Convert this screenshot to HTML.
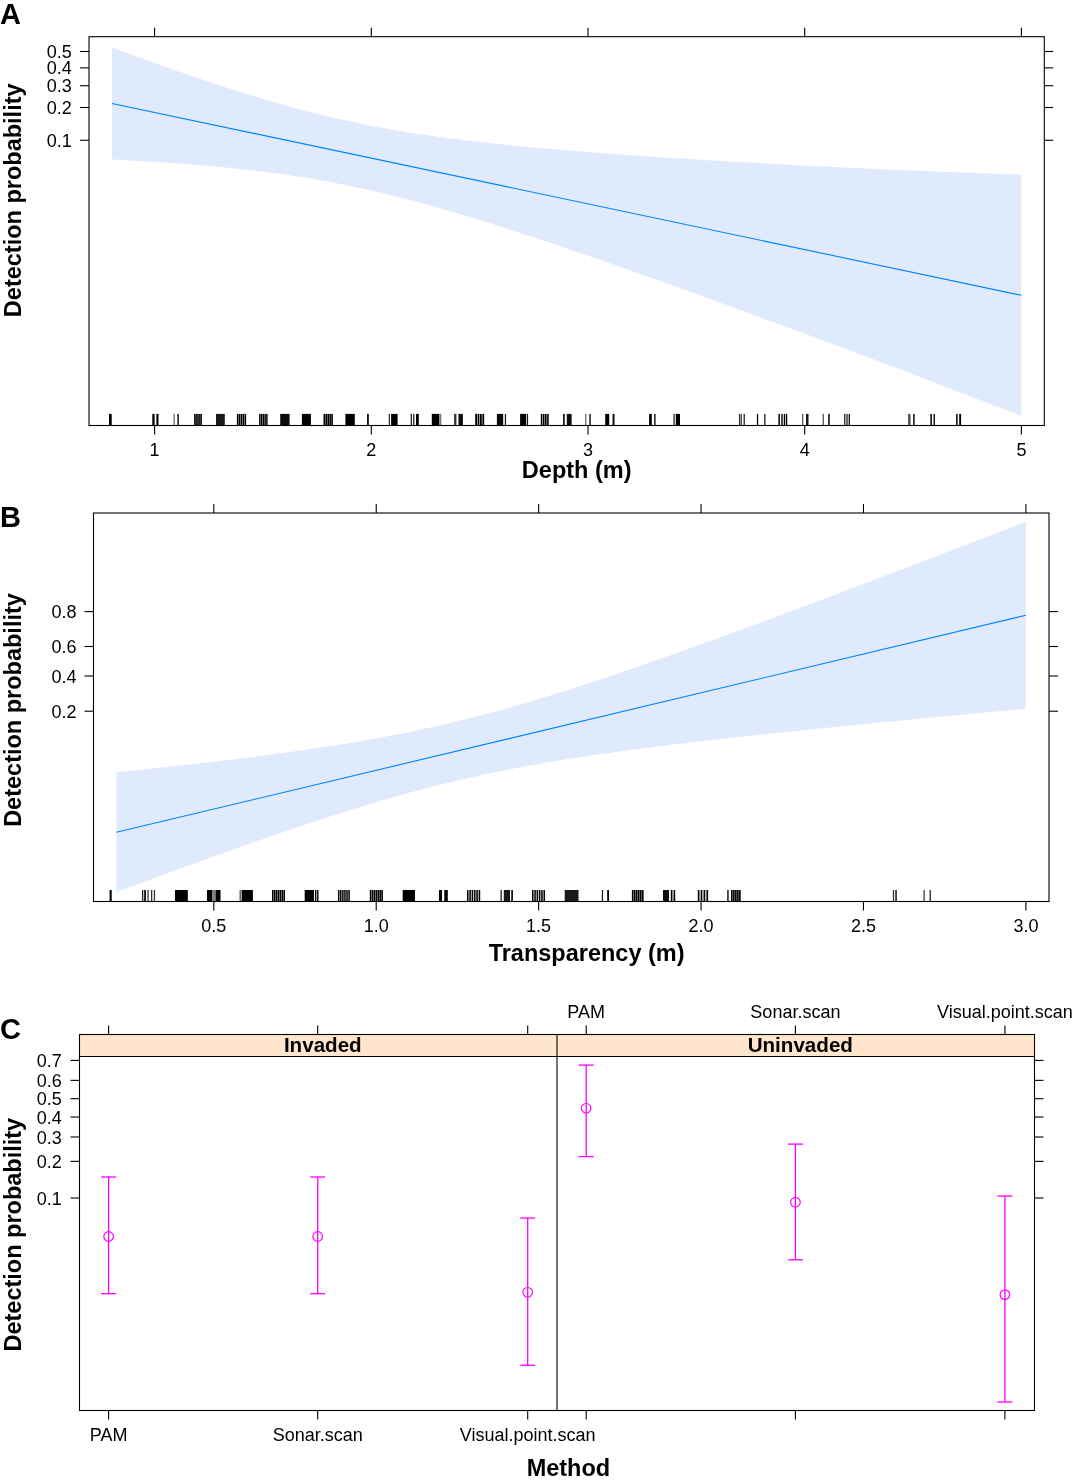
<!DOCTYPE html>
<html><head><meta charset="utf-8"><title>Detection probability</title>
<style>html,body{margin:0;padding:0;background:#fff;}svg{display:block;will-change:transform;}text{font-family:"Liberation Sans",sans-serif;fill:#000;}</style>
</head><body>
<svg width="1076" height="1481" viewBox="0 0 1076 1481">
<rect width="1076" height="1481" fill="#fff"/>
<path d="M111.90,47.36 L116.45,49.05 L121.00,50.74 L125.54,52.43 L130.09,54.10 L134.64,55.77 L139.19,57.43 L143.73,59.09 L148.28,60.73 L152.83,62.37 L157.38,64.00 L161.92,65.63 L166.47,67.24 L171.02,68.84 L175.56,70.44 L180.11,72.02 L184.66,73.60 L189.21,75.17 L193.75,76.72 L198.30,78.27 L202.85,79.80 L207.40,81.33 L211.94,82.84 L216.49,84.34 L221.04,85.83 L225.59,87.30 L230.13,88.76 L234.68,90.21 L239.23,91.65 L243.78,93.07 L248.33,94.48 L252.87,95.87 L257.42,97.25 L261.97,98.61 L266.51,99.95 L271.06,101.28 L275.61,102.59 L280.16,103.89 L284.71,105.17 L289.25,106.43 L293.80,107.67 L298.35,108.89 L302.89,110.09 L307.44,111.28 L311.99,112.44 L316.54,113.59 L321.09,114.71 L325.63,115.81 L330.18,116.90 L334.73,117.96 L339.27,119.00 L343.82,120.03 L348.37,121.03 L352.92,122.01 L357.47,122.97 L362.01,123.91 L366.56,124.83 L371.11,125.72 L375.65,126.60 L380.20,127.46 L384.75,128.30 L389.30,129.12 L393.85,129.92 L398.39,130.70 L402.94,131.47 L407.49,132.21 L412.03,132.94 L416.58,133.65 L421.13,134.35 L425.68,135.03 L430.23,135.69 L434.77,136.34 L439.32,136.97 L443.87,137.59 L448.41,138.20 L452.96,138.79 L457.51,139.37 L462.06,139.93 L466.61,140.49 L471.15,141.03 L475.70,141.56 L480.25,142.08 L484.79,142.59 L489.34,143.09 L493.89,143.58 L498.44,144.06 L502.99,144.53 L507.53,145.00 L512.08,145.45 L516.63,145.90 L521.17,146.34 L525.72,146.77 L530.27,147.19 L534.82,147.61 L539.37,148.02 L543.91,148.43 L548.46,148.83 L553.01,149.22 L557.55,149.61 L562.10,149.99 L566.65,150.36 L571.20,150.73 L575.75,151.10 L580.29,151.46 L584.84,151.82 L589.39,152.17 L593.94,152.52 L598.48,152.86 L603.03,153.20 L607.58,153.54 L612.12,153.87 L616.67,154.20 L621.22,154.53 L625.77,154.85 L630.31,155.17 L634.86,155.48 L639.41,155.79 L643.96,156.10 L648.50,156.41 L653.05,156.71 L657.60,157.01 L662.15,157.31 L666.69,157.60 L671.24,157.90 L675.79,158.19 L680.34,158.47 L684.88,158.76 L689.43,159.04 L693.98,159.32 L698.53,159.60 L703.07,159.88 L707.62,160.15 L712.17,160.42 L716.72,160.69 L721.26,160.96 L725.81,161.22 L730.36,161.49 L734.91,161.75 L739.45,162.01 L744.00,162.26 L748.55,162.52 L753.10,162.77 L757.64,163.02 L762.19,163.27 L766.74,163.52 L771.29,163.77 L775.83,164.01 L780.38,164.25 L784.93,164.49 L789.48,164.73 L794.02,164.97 L798.57,165.21 L803.12,165.44 L807.67,165.67 L812.22,165.90 L816.76,166.13 L821.31,166.35 L825.86,166.58 L830.40,166.80 L834.95,167.02 L839.50,167.24 L844.05,167.46 L848.60,167.68 L853.14,167.89 L857.69,168.11 L862.24,168.32 L866.78,168.53 L871.33,168.73 L875.88,168.94 L880.43,169.14 L884.98,169.35 L889.52,169.55 L894.07,169.75 L898.62,169.94 L903.16,170.14 L907.71,170.33 L912.26,170.52 L916.81,170.71 L921.36,170.90 L925.90,171.09 L930.45,171.27 L935.00,171.46 L939.54,171.64 L944.09,171.82 L948.64,172.00 L953.19,172.17 L957.74,172.35 L962.28,172.52 L966.83,172.69 L971.38,172.86 L975.92,173.02 L980.47,173.19 L985.02,173.35 L989.57,173.51 L994.12,173.67 L998.66,173.83 L1003.21,173.98 L1007.76,174.14 L1012.30,174.29 L1016.85,174.44 L1021.40,174.58 L1021.40,416.02 L1016.85,414.25 L1012.30,412.48 L1007.76,410.71 L1003.21,408.95 L998.66,407.18 L994.12,405.42 L989.57,403.66 L985.02,401.90 L980.47,400.15 L975.92,398.39 L971.38,396.64 L966.83,394.89 L962.28,393.14 L957.74,391.40 L953.19,389.65 L948.64,387.91 L944.09,386.17 L939.54,384.43 L935.00,382.69 L930.45,380.96 L925.90,379.22 L921.36,377.49 L916.81,375.76 L912.26,374.03 L907.71,372.31 L903.16,370.58 L898.62,368.86 L894.07,367.14 L889.52,365.42 L884.98,363.70 L880.43,361.98 L875.88,360.27 L871.33,358.56 L866.78,356.84 L862.24,355.14 L857.69,353.43 L853.14,351.72 L848.60,350.02 L844.05,348.32 L839.50,346.61 L834.95,344.92 L830.40,343.22 L825.86,341.52 L821.31,339.83 L816.76,338.14 L812.22,336.45 L807.67,334.76 L803.12,333.07 L798.57,331.39 L794.02,329.70 L789.48,328.02 L784.93,326.34 L780.38,324.66 L775.83,322.99 L771.29,321.31 L766.74,319.64 L762.19,317.97 L757.64,316.30 L753.10,314.63 L748.55,312.97 L744.00,311.30 L739.45,309.64 L734.91,307.98 L730.36,306.33 L725.81,304.67 L721.26,303.02 L716.72,301.37 L712.17,299.72 L707.62,298.07 L703.07,296.42 L698.53,294.78 L693.98,293.14 L689.43,291.50 L684.88,289.87 L680.34,288.23 L675.79,286.60 L671.24,284.97 L666.69,283.35 L662.15,281.72 L657.60,280.10 L653.05,278.49 L648.50,276.87 L643.96,275.26 L639.41,273.65 L634.86,272.04 L630.31,270.44 L625.77,268.84 L621.22,267.24 L616.67,265.65 L612.12,264.06 L607.58,262.47 L603.03,260.89 L598.48,259.31 L593.94,257.74 L589.39,256.17 L584.84,254.60 L580.29,253.04 L575.75,251.48 L571.20,249.93 L566.65,248.38 L562.10,246.84 L557.55,245.30 L553.01,243.77 L548.46,242.24 L543.91,240.72 L539.37,239.21 L534.82,237.70 L530.27,236.20 L525.72,234.71 L521.17,233.22 L516.63,231.74 L512.08,230.27 L507.53,228.80 L502.99,227.35 L498.44,225.90 L493.89,224.46 L489.34,223.04 L484.79,221.62 L480.25,220.21 L475.70,218.81 L471.15,217.42 L466.61,216.05 L462.06,214.68 L457.51,213.33 L452.96,211.99 L448.41,210.66 L443.87,209.35 L439.32,208.05 L434.77,206.76 L430.23,205.49 L425.68,204.24 L421.13,203.00 L416.58,201.78 L412.03,200.57 L407.49,199.38 L402.94,198.21 L398.39,197.05 L393.85,195.92 L389.30,194.80 L384.75,193.70 L380.20,192.62 L375.65,191.56 L371.11,190.52 L366.56,189.50 L362.01,188.50 L357.47,187.52 L352.92,186.56 L348.37,185.62 L343.82,184.71 L339.27,183.81 L334.73,182.93 L330.18,182.08 L325.63,181.24 L321.09,180.43 L316.54,179.64 L311.99,178.86 L307.44,178.11 L302.89,177.37 L298.35,176.66 L293.80,175.96 L289.25,175.28 L284.71,174.62 L280.16,173.98 L275.61,173.36 L271.06,172.75 L266.51,172.16 L261.97,171.59 L257.42,171.03 L252.87,170.49 L248.33,169.96 L243.78,169.45 L239.23,168.96 L234.68,168.47 L230.13,168.00 L225.59,167.55 L221.04,167.10 L216.49,166.67 L211.94,166.26 L207.40,165.85 L202.85,165.45 L198.30,165.07 L193.75,164.70 L189.21,164.33 L184.66,163.98 L180.11,163.64 L175.56,163.31 L171.02,162.98 L166.47,162.67 L161.92,162.36 L157.38,162.07 L152.83,161.78 L148.28,161.50 L143.73,161.23 L139.19,160.96 L134.64,160.71 L130.09,160.46 L125.54,160.21 L121.00,159.98 L116.45,159.75 L111.90,159.53Z" fill="#DFEBFD" stroke="none"/>
<line x1="111.90" y1="103.44" x2="1021.40" y2="295.30" stroke="#0080FF" stroke-width="1.1"/>
<rect x="109.00" y="413.9" width="2.70" height="11.60" fill="#000" fill-opacity="1"/>
<rect x="152.30" y="413.9" width="2.30" height="11.60" fill="#000" fill-opacity="1"/>
<rect x="156.40" y="413.9" width="2.10" height="11.60" fill="#000" fill-opacity="1"/>
<rect x="173.53" y="413.9" width="1.25" height="11.60" fill="#000" fill-opacity="0.6"/>
<rect x="177.40" y="413.9" width="1.40" height="11.60" fill="#000" fill-opacity="1"/>
<rect x="194.10" y="413.9" width="1.66" height="11.60" fill="#000"/>
<rect x="196.15" y="413.9" width="1.66" height="11.60" fill="#000"/>
<rect x="198.19" y="413.9" width="1.66" height="11.60" fill="#000"/>
<rect x="200.24" y="413.9" width="1.66" height="11.60" fill="#000"/>
<rect x="216.00" y="413.9" width="8.80" height="11.60" fill="#000" fill-opacity="0.9"/>
<rect x="236.90" y="413.9" width="1.56" height="11.60" fill="#000"/>
<rect x="238.81" y="413.9" width="1.56" height="11.60" fill="#000"/>
<rect x="240.72" y="413.9" width="1.56" height="11.60" fill="#000"/>
<rect x="242.63" y="413.9" width="1.56" height="11.60" fill="#000"/>
<rect x="244.54" y="413.9" width="1.56" height="11.60" fill="#000"/>
<rect x="259.10" y="413.9" width="1.45" height="11.60" fill="#000"/>
<rect x="260.86" y="413.9" width="1.45" height="11.60" fill="#000"/>
<rect x="262.63" y="413.9" width="1.45" height="11.60" fill="#000"/>
<rect x="264.39" y="413.9" width="1.45" height="11.60" fill="#000"/>
<rect x="266.16" y="413.9" width="1.45" height="11.60" fill="#000"/>
<rect x="280.20" y="413.9" width="9.40" height="11.60" fill="#000" fill-opacity="0.9500000000000001"/>
<rect x="301.90" y="413.9" width="9.00" height="11.60" fill="#000" fill-opacity="1.0"/>
<rect x="323.50" y="413.9" width="1.60" height="11.60" fill="#000"/>
<rect x="325.45" y="413.9" width="1.60" height="11.60" fill="#000"/>
<rect x="327.40" y="413.9" width="1.60" height="11.60" fill="#000"/>
<rect x="329.35" y="413.9" width="1.60" height="11.60" fill="#000"/>
<rect x="331.30" y="413.9" width="1.60" height="11.60" fill="#000"/>
<rect x="345.40" y="413.9" width="9.40" height="11.60" fill="#000" fill-opacity="1.0"/>
<rect x="367.10" y="413.9" width="1.70" height="11.60" fill="#000" fill-opacity="1"/>
<rect x="388.73" y="413.9" width="1.25" height="11.60" fill="#000" fill-opacity="0.8"/>
<rect x="391.10" y="413.9" width="6.50" height="11.60" fill="#000" fill-opacity="1.0"/>
<rect x="410.68" y="413.9" width="1.25" height="11.60" fill="#000" fill-opacity="0.9"/>
<rect x="413.12" y="413.9" width="1.25" height="11.60" fill="#000" fill-opacity="0.9"/>
<rect x="416.00" y="413.9" width="2.80" height="11.60" fill="#000" fill-opacity="1"/>
<rect x="431.80" y="413.9" width="7.20" height="11.60" fill="#000" fill-opacity="1.0"/>
<rect x="439.20" y="413.9" width="2.20" height="11.60" fill="#000" fill-opacity="0.5"/>
<rect x="454.10" y="413.9" width="2.30" height="11.60" fill="#000" fill-opacity="0.8"/>
<rect x="458.50" y="413.9" width="4.40" height="11.60" fill="#000" fill-opacity="0.9500000000000001"/>
<rect x="475.20" y="413.9" width="1.80" height="11.60" fill="#000"/>
<rect x="477.60" y="413.9" width="1.80" height="11.60" fill="#000"/>
<rect x="480.00" y="413.9" width="1.80" height="11.60" fill="#000"/>
<rect x="482.40" y="413.9" width="1.80" height="11.60" fill="#000"/>
<rect x="496.90" y="413.9" width="6.30" height="11.60" fill="#000" fill-opacity="0.9500000000000001"/>
<rect x="504.83" y="413.9" width="1.25" height="11.60" fill="#000" fill-opacity="0.9"/>
<rect x="520.10" y="413.9" width="6.00" height="11.60" fill="#000" fill-opacity="1.0"/>
<rect x="526.83" y="413.9" width="1.25" height="11.60" fill="#000" fill-opacity="0.9"/>
<rect x="540.80" y="413.9" width="1.58" height="11.60" fill="#000"/>
<rect x="542.91" y="413.9" width="1.58" height="11.60" fill="#000"/>
<rect x="545.01" y="413.9" width="1.58" height="11.60" fill="#000"/>
<rect x="547.12" y="413.9" width="1.58" height="11.60" fill="#000"/>
<rect x="563.00" y="413.9" width="1.80" height="11.60" fill="#000" fill-opacity="0.9"/>
<rect x="566.80" y="413.9" width="4.80" height="11.60" fill="#000" fill-opacity="0.9500000000000001"/>
<rect x="585.12" y="413.9" width="1.25" height="11.60" fill="#000" fill-opacity="0.6"/>
<rect x="589.30" y="413.9" width="1.50" height="11.60" fill="#000" fill-opacity="0.9"/>
<rect x="605.20" y="413.9" width="4.00" height="11.60" fill="#000" fill-opacity="1.0"/>
<rect x="612.50" y="413.9" width="2.10" height="11.60" fill="#000" fill-opacity="0.9"/>
<rect x="649.10" y="413.9" width="2.70" height="11.60" fill="#000" fill-opacity="1"/>
<rect x="654.10" y="413.9" width="1.50" height="11.60" fill="#000" fill-opacity="0.9"/>
<rect x="673.20" y="413.9" width="1.80" height="11.60" fill="#000" fill-opacity="0.6"/>
<rect x="675.80" y="413.9" width="4.20" height="11.60" fill="#000" fill-opacity="1.0"/>
<rect x="738.92" y="413.9" width="1.25" height="11.60" fill="#000" fill-opacity="0.8"/>
<rect x="740.62" y="413.9" width="1.25" height="11.60" fill="#000" fill-opacity="0.8"/>
<rect x="743.58" y="413.9" width="1.25" height="11.60" fill="#000" fill-opacity="0.9"/>
<rect x="756.92" y="413.9" width="1.25" height="11.60" fill="#000" fill-opacity="1"/>
<rect x="764.20" y="413.9" width="1.30" height="11.60" fill="#000" fill-opacity="0.9"/>
<rect x="778.40" y="413.9" width="1.50" height="11.60" fill="#000" fill-opacity="1"/>
<rect x="781.30" y="413.9" width="1.40" height="11.60" fill="#000" fill-opacity="1"/>
<rect x="783.80" y="413.9" width="1.40" height="11.60" fill="#000" fill-opacity="1"/>
<rect x="785.97" y="413.9" width="1.25" height="11.60" fill="#000" fill-opacity="1"/>
<rect x="802.08" y="413.9" width="1.25" height="11.60" fill="#000" fill-opacity="0.7"/>
<rect x="806.00" y="413.9" width="2.50" height="11.60" fill="#000" fill-opacity="0.9"/>
<rect x="822.62" y="413.9" width="1.25" height="11.60" fill="#000" fill-opacity="0.7"/>
<rect x="828.20" y="413.9" width="1.50" height="11.60" fill="#000" fill-opacity="1"/>
<rect x="844.12" y="413.9" width="1.25" height="11.60" fill="#000" fill-opacity="0.9"/>
<rect x="846.38" y="413.9" width="1.25" height="11.60" fill="#000" fill-opacity="0.9"/>
<rect x="848.67" y="413.9" width="1.25" height="11.60" fill="#000" fill-opacity="1"/>
<rect x="908.10" y="413.9" width="2.40" height="11.60" fill="#000" fill-opacity="0.7"/>
<rect x="913.10" y="413.9" width="1.60" height="11.60" fill="#000" fill-opacity="0.9"/>
<rect x="930.40" y="413.9" width="1.50" height="11.60" fill="#000" fill-opacity="1"/>
<rect x="933.50" y="413.9" width="1.50" height="11.60" fill="#000" fill-opacity="0.9"/>
<rect x="956.10" y="413.9" width="1.50" height="11.60" fill="#000" fill-opacity="1"/>
<rect x="959.20" y="413.9" width="1.90" height="11.60" fill="#000" fill-opacity="1"/>
<rect x="89.00" y="36.70" width="955.30" height="388.80" stroke="#000" stroke-width="1.1" fill="none"/>
<line x1="154.60" y1="27.70" x2="154.60" y2="36.70" stroke="#000" stroke-width="1.1"/>
<line x1="154.60" y1="425.50" x2="154.60" y2="434.50" stroke="#000" stroke-width="1.1"/>
<text x="154.60" y="456.20" font-size="18" font-weight="normal" text-anchor="middle" >1</text>
<line x1="371.30" y1="27.70" x2="371.30" y2="36.70" stroke="#000" stroke-width="1.1"/>
<line x1="371.30" y1="425.50" x2="371.30" y2="434.50" stroke="#000" stroke-width="1.1"/>
<text x="371.30" y="456.20" font-size="18" font-weight="normal" text-anchor="middle" >2</text>
<line x1="588.00" y1="27.70" x2="588.00" y2="36.70" stroke="#000" stroke-width="1.1"/>
<line x1="588.00" y1="425.50" x2="588.00" y2="434.50" stroke="#000" stroke-width="1.1"/>
<text x="588.00" y="456.20" font-size="18" font-weight="normal" text-anchor="middle" >3</text>
<line x1="804.70" y1="27.70" x2="804.70" y2="36.70" stroke="#000" stroke-width="1.1"/>
<line x1="804.70" y1="425.50" x2="804.70" y2="434.50" stroke="#000" stroke-width="1.1"/>
<text x="804.70" y="456.20" font-size="18" font-weight="normal" text-anchor="middle" >4</text>
<line x1="1021.40" y1="27.70" x2="1021.40" y2="36.70" stroke="#000" stroke-width="1.1"/>
<line x1="1021.40" y1="425.50" x2="1021.40" y2="434.50" stroke="#000" stroke-width="1.1"/>
<text x="1021.40" y="456.20" font-size="18" font-weight="normal" text-anchor="middle" >5</text>
<line x1="80.00" y1="51.50" x2="89.00" y2="51.50" stroke="#000" stroke-width="1.1"/>
<line x1="1044.30" y1="51.50" x2="1053.30" y2="51.50" stroke="#000" stroke-width="1.1"/>
<text x="71.80" y="58.10" font-size="18" font-weight="normal" text-anchor="end" >0.5</text>
<line x1="80.00" y1="67.88" x2="89.00" y2="67.88" stroke="#000" stroke-width="1.1"/>
<line x1="1044.30" y1="67.88" x2="1053.30" y2="67.88" stroke="#000" stroke-width="1.1"/>
<text x="71.80" y="74.48" font-size="18" font-weight="normal" text-anchor="end" >0.4</text>
<line x1="80.00" y1="85.73" x2="89.00" y2="85.73" stroke="#000" stroke-width="1.1"/>
<line x1="1044.30" y1="85.73" x2="1053.30" y2="85.73" stroke="#000" stroke-width="1.1"/>
<text x="71.80" y="92.33" font-size="18" font-weight="normal" text-anchor="end" >0.3</text>
<line x1="80.00" y1="107.51" x2="89.00" y2="107.51" stroke="#000" stroke-width="1.1"/>
<line x1="1044.30" y1="107.51" x2="1053.30" y2="107.51" stroke="#000" stroke-width="1.1"/>
<text x="71.80" y="114.11" font-size="18" font-weight="normal" text-anchor="end" >0.2</text>
<line x1="80.00" y1="140.27" x2="89.00" y2="140.27" stroke="#000" stroke-width="1.1"/>
<line x1="1044.30" y1="140.27" x2="1053.30" y2="140.27" stroke="#000" stroke-width="1.1"/>
<text x="71.80" y="146.87" font-size="18" font-weight="normal" text-anchor="end" >0.1</text>
<text x="576.70" y="477.60" font-size="23.5" font-weight="bold" text-anchor="middle" >Depth (m)</text>
<text transform="translate(21,200.3) rotate(-90)" font-size="23.5" font-weight="bold" text-anchor="middle">Detection probability</text>
<text x="0.00" y="23.80" font-size="29" font-weight="bold" text-anchor="start" >A</text>
<path d="M116.30,772.38 L120.85,771.91 L125.40,771.43 L129.94,770.95 L134.49,770.47 L139.04,769.99 L143.59,769.50 L148.14,769.02 L152.68,768.53 L157.23,768.03 L161.78,767.54 L166.33,767.04 L170.88,766.54 L175.42,766.03 L179.97,765.53 L184.52,765.02 L189.07,764.50 L193.62,763.98 L198.16,763.46 L202.71,762.94 L207.26,762.41 L211.81,761.88 L216.36,761.34 L220.90,760.80 L225.45,760.26 L230.00,759.71 L234.55,759.16 L239.10,758.60 L243.64,758.04 L248.19,757.47 L252.74,756.89 L257.29,756.31 L261.84,755.73 L266.38,755.14 L270.93,754.54 L275.48,753.94 L280.03,753.33 L284.58,752.71 L289.12,752.09 L293.67,751.46 L298.22,750.82 L302.77,750.17 L307.32,749.52 L311.86,748.85 L316.41,748.18 L320.96,747.50 L325.51,746.81 L330.06,746.11 L334.60,745.40 L339.15,744.68 L343.70,743.95 L348.25,743.21 L352.80,742.45 L357.34,741.69 L361.89,740.91 L366.44,740.12 L370.99,739.32 L375.54,738.51 L380.08,737.68 L384.63,736.84 L389.18,735.98 L393.73,735.11 L398.28,734.23 L402.82,733.33 L407.37,732.41 L411.92,731.48 L416.47,730.54 L421.02,729.57 L425.56,728.60 L430.11,727.60 L434.66,726.59 L439.21,725.57 L443.76,724.52 L448.30,723.46 L452.85,722.39 L457.40,721.29 L461.95,720.18 L466.50,719.06 L471.04,717.91 L475.59,716.75 L480.14,715.58 L484.69,714.39 L489.24,713.18 L493.78,711.95 L498.33,710.71 L502.88,709.46 L507.43,708.19 L511.98,706.90 L516.52,705.60 L521.07,704.29 L525.62,702.96 L530.17,701.62 L534.72,700.26 L539.26,698.90 L543.81,697.51 L548.36,696.12 L552.91,694.72 L557.46,693.30 L562.00,691.87 L566.55,690.43 L571.10,688.98 L575.65,687.52 L580.20,686.05 L584.74,684.57 L589.29,683.09 L593.84,681.59 L598.39,680.08 L602.94,678.57 L607.48,677.04 L612.03,675.51 L616.58,673.97 L621.13,672.43 L625.68,670.87 L630.22,669.31 L634.77,667.75 L639.32,666.17 L643.87,664.60 L648.42,663.01 L652.96,661.42 L657.51,659.82 L662.06,658.22 L666.61,656.62 L671.16,655.00 L675.70,653.39 L680.25,651.77 L684.80,650.14 L689.35,648.51 L693.90,646.88 L698.44,645.24 L702.99,643.60 L707.54,641.95 L712.09,640.30 L716.64,638.65 L721.18,636.99 L725.73,635.33 L730.28,633.67 L734.83,632.01 L739.38,630.34 L743.92,628.66 L748.47,626.99 L753.02,625.31 L757.57,623.63 L762.12,621.95 L766.66,620.27 L771.21,618.58 L775.76,616.89 L780.31,615.20 L784.86,613.51 L789.40,611.81 L793.95,610.11 L798.50,608.41 L803.05,606.71 L807.60,605.01 L812.14,603.30 L816.69,601.60 L821.24,599.89 L825.79,598.18 L830.34,596.46 L834.88,594.75 L839.43,593.04 L843.98,591.32 L848.53,589.60 L853.08,587.88 L857.62,586.16 L862.17,584.44 L866.72,582.72 L871.27,580.99 L875.82,579.27 L880.36,577.54 L884.91,575.81 L889.46,574.08 L894.01,572.35 L898.56,570.62 L903.10,568.89 L907.65,567.16 L912.20,565.42 L916.75,563.69 L921.30,561.95 L925.84,560.22 L930.39,558.48 L934.94,556.74 L939.49,555.00 L944.04,553.26 L948.58,551.52 L953.13,549.78 L957.68,548.03 L962.23,546.29 L966.78,544.55 L971.32,542.80 L975.87,541.06 L980.42,539.31 L984.97,537.56 L989.52,535.82 L994.06,534.07 L998.61,532.32 L1003.16,530.57 L1007.71,528.82 L1012.26,527.07 L1016.80,525.32 L1021.35,523.57 L1025.90,521.81 L1025.90,708.79 L1021.35,709.20 L1016.80,709.62 L1012.26,710.04 L1007.71,710.46 L1003.16,710.88 L998.61,711.30 L994.06,711.72 L989.52,712.14 L984.97,712.57 L980.42,712.99 L975.87,713.41 L971.32,713.84 L966.78,714.26 L962.23,714.69 L957.68,715.12 L953.13,715.54 L948.58,715.97 L944.04,716.40 L939.49,716.83 L934.94,717.26 L930.39,717.69 L925.84,718.12 L921.30,718.56 L916.75,718.99 L912.20,719.43 L907.65,719.86 L903.10,720.30 L898.56,720.74 L894.01,721.18 L889.46,721.62 L884.91,722.06 L880.36,722.50 L875.82,722.94 L871.27,723.39 L866.72,723.83 L862.17,724.28 L857.62,724.73 L853.08,725.18 L848.53,725.63 L843.98,726.08 L839.43,726.53 L834.88,726.99 L830.34,727.45 L825.79,727.90 L821.24,728.36 L816.69,728.82 L812.14,729.29 L807.60,729.75 L803.05,730.22 L798.50,730.69 L793.95,731.16 L789.40,731.63 L784.86,732.10 L780.31,732.58 L775.76,733.06 L771.21,733.54 L766.66,734.02 L762.12,734.51 L757.57,735.00 L753.02,735.49 L748.47,735.98 L743.92,736.48 L739.38,736.97 L734.83,737.47 L730.28,737.98 L725.73,738.49 L721.18,739.00 L716.64,739.51 L712.09,740.03 L707.54,740.55 L702.99,741.07 L698.44,741.60 L693.90,742.13 L689.35,742.67 L684.80,743.21 L680.25,743.75 L675.70,744.30 L671.16,744.86 L666.61,745.41 L662.06,745.98 L657.51,746.55 L652.96,747.12 L648.42,747.70 L643.87,748.28 L639.32,748.88 L634.77,749.47 L630.22,750.08 L625.68,750.69 L621.13,751.30 L616.58,751.93 L612.03,752.56 L607.48,753.20 L602.94,753.84 L598.39,754.50 L593.84,755.16 L589.29,755.83 L584.74,756.52 L580.20,757.21 L575.65,757.91 L571.10,758.62 L566.55,759.34 L562.00,760.07 L557.46,760.81 L552.91,761.56 L548.36,762.33 L543.81,763.11 L539.26,763.89 L534.72,764.70 L530.17,765.51 L525.62,766.34 L521.07,767.18 L516.52,768.04 L511.98,768.91 L507.43,769.79 L502.88,770.69 L498.33,771.61 L493.78,772.54 L489.24,773.48 L484.69,774.44 L480.14,775.42 L475.59,776.42 L471.04,777.43 L466.50,778.45 L461.95,779.50 L457.40,780.56 L452.85,781.63 L448.30,782.73 L443.76,783.84 L439.21,784.96 L434.66,786.11 L430.11,787.27 L425.56,788.44 L421.02,789.64 L416.47,790.84 L411.92,792.07 L407.37,793.31 L402.82,794.56 L398.28,795.83 L393.73,797.12 L389.18,798.42 L384.63,799.73 L380.08,801.06 L375.54,802.40 L370.99,803.76 L366.44,805.13 L361.89,806.51 L357.34,807.90 L352.80,809.31 L348.25,810.72 L343.70,812.15 L339.15,813.59 L334.60,815.04 L330.06,816.50 L325.51,817.97 L320.96,819.45 L316.41,820.94 L311.86,822.44 L307.32,823.94 L302.77,825.46 L298.22,826.98 L293.67,828.51 L289.12,830.05 L284.58,831.60 L280.03,833.15 L275.48,834.71 L270.93,836.28 L266.38,837.85 L261.84,839.43 L257.29,841.02 L252.74,842.61 L248.19,844.20 L243.64,845.80 L239.10,847.41 L234.55,849.02 L230.00,850.64 L225.45,852.26 L220.90,853.89 L216.36,855.52 L211.81,857.15 L207.26,858.79 L202.71,860.43 L198.16,862.08 L193.62,863.73 L189.07,865.38 L184.52,867.03 L179.97,868.69 L175.42,870.36 L170.88,872.02 L166.33,873.69 L161.78,875.36 L157.23,877.04 L152.68,878.71 L148.14,880.39 L143.59,882.08 L139.04,883.76 L134.49,885.45 L129.94,887.14 L125.40,888.83 L120.85,890.52 L116.30,892.22Z" fill="#DFEBFD" stroke="none"/>
<line x1="116.30" y1="832.30" x2="1025.90" y2="615.30" stroke="#0080FF" stroke-width="1.1"/>
<rect x="109.60" y="890.0" width="2.10" height="11.50" fill="#000" fill-opacity="1"/>
<rect x="142.03" y="890.0" width="1.25" height="11.50" fill="#000" fill-opacity="0.9"/>
<rect x="144.10" y="890.0" width="1.90" height="11.50" fill="#000" fill-opacity="0.9"/>
<rect x="147.43" y="890.0" width="1.25" height="11.50" fill="#000" fill-opacity="0.8"/>
<rect x="151.00" y="890.0" width="1.30" height="11.50" fill="#000" fill-opacity="0.8"/>
<rect x="153.82" y="890.0" width="1.25" height="11.50" fill="#000" fill-opacity="0.8"/>
<rect x="175.00" y="890.0" width="12.80" height="11.50" fill="#000" fill-opacity="1.0"/>
<rect x="207.00" y="890.0" width="5.30" height="11.50" fill="#000" fill-opacity="1.0"/>
<rect x="212.50" y="890.0" width="2.80" height="11.50" fill="#000" fill-opacity="0.5"/>
<rect x="215.50" y="890.0" width="5.00" height="11.50" fill="#000" fill-opacity="1.0"/>
<rect x="239.57" y="890.0" width="1.25" height="11.50" fill="#000" fill-opacity="0.7"/>
<rect x="241.60" y="890.0" width="11.30" height="11.50" fill="#000" fill-opacity="1.0"/>
<rect x="272.00" y="890.0" width="1.58" height="11.50" fill="#000"/>
<rect x="273.90" y="890.0" width="1.58" height="11.50" fill="#000"/>
<rect x="275.81" y="890.0" width="1.58" height="11.50" fill="#000"/>
<rect x="277.71" y="890.0" width="1.58" height="11.50" fill="#000"/>
<rect x="279.61" y="890.0" width="1.58" height="11.50" fill="#000"/>
<rect x="281.52" y="890.0" width="1.58" height="11.50" fill="#000"/>
<rect x="283.42" y="890.0" width="1.58" height="11.50" fill="#000"/>
<rect x="304.70" y="890.0" width="9.30" height="11.50" fill="#000" fill-opacity="1.0"/>
<rect x="315.00" y="890.0" width="1.40" height="11.50" fill="#000"/>
<rect x="317.10" y="890.0" width="1.40" height="11.50" fill="#000"/>
<rect x="338.00" y="890.0" width="1.48" height="11.50" fill="#000"/>
<rect x="340.06" y="890.0" width="1.48" height="11.50" fill="#000"/>
<rect x="342.13" y="890.0" width="1.48" height="11.50" fill="#000"/>
<rect x="344.19" y="890.0" width="1.48" height="11.50" fill="#000"/>
<rect x="346.26" y="890.0" width="1.48" height="11.50" fill="#000"/>
<rect x="348.32" y="890.0" width="1.48" height="11.50" fill="#000"/>
<rect x="369.80" y="890.0" width="1.59" height="11.50" fill="#000"/>
<rect x="371.72" y="890.0" width="1.59" height="11.50" fill="#000"/>
<rect x="373.64" y="890.0" width="1.59" height="11.50" fill="#000"/>
<rect x="375.55" y="890.0" width="1.59" height="11.50" fill="#000"/>
<rect x="377.47" y="890.0" width="1.59" height="11.50" fill="#000"/>
<rect x="379.39" y="890.0" width="1.59" height="11.50" fill="#000"/>
<rect x="381.31" y="890.0" width="1.59" height="11.50" fill="#000"/>
<rect x="402.70" y="890.0" width="12.30" height="11.50" fill="#000" fill-opacity="1.0"/>
<rect x="439.00" y="890.0" width="3.00" height="11.50" fill="#000" fill-opacity="1"/>
<rect x="444.30" y="890.0" width="3.50" height="11.50" fill="#000" fill-opacity="1.0"/>
<rect x="467.00" y="890.0" width="1.54" height="11.50" fill="#000"/>
<rect x="469.33" y="890.0" width="1.54" height="11.50" fill="#000"/>
<rect x="471.66" y="890.0" width="1.54" height="11.50" fill="#000"/>
<rect x="474.00" y="890.0" width="1.54" height="11.50" fill="#000"/>
<rect x="476.33" y="890.0" width="1.54" height="11.50" fill="#000"/>
<rect x="478.66" y="890.0" width="1.54" height="11.50" fill="#000"/>
<rect x="500.50" y="890.0" width="1.30" height="11.50" fill="#000" fill-opacity="0.9"/>
<rect x="503.80" y="890.0" width="6.20" height="11.50" fill="#000" fill-opacity="0.9"/>
<rect x="511.20" y="890.0" width="1.80" height="11.50" fill="#000" fill-opacity="0.9"/>
<rect x="532.00" y="890.0" width="1.52" height="11.50" fill="#000"/>
<rect x="534.30" y="890.0" width="1.52" height="11.50" fill="#000"/>
<rect x="536.59" y="890.0" width="1.52" height="11.50" fill="#000"/>
<rect x="538.89" y="890.0" width="1.52" height="11.50" fill="#000"/>
<rect x="541.19" y="890.0" width="1.52" height="11.50" fill="#000"/>
<rect x="543.48" y="890.0" width="1.52" height="11.50" fill="#000"/>
<rect x="564.70" y="890.0" width="13.80" height="11.50" fill="#000" fill-opacity="0.9"/>
<rect x="601.83" y="890.0" width="1.25" height="11.50" fill="#000" fill-opacity="0.9"/>
<rect x="607.20" y="890.0" width="1.80" height="11.50" fill="#000" fill-opacity="1"/>
<rect x="631.90" y="890.0" width="1.66" height="11.50" fill="#000"/>
<rect x="633.91" y="890.0" width="1.66" height="11.50" fill="#000"/>
<rect x="635.92" y="890.0" width="1.66" height="11.50" fill="#000"/>
<rect x="637.93" y="890.0" width="1.66" height="11.50" fill="#000"/>
<rect x="639.93" y="890.0" width="1.66" height="11.50" fill="#000"/>
<rect x="641.94" y="890.0" width="1.66" height="11.50" fill="#000"/>
<rect x="663.00" y="890.0" width="6.00" height="11.50" fill="#000" fill-opacity="0.9500000000000001"/>
<rect x="670.80" y="890.0" width="1.65" height="11.50" fill="#000"/>
<rect x="673.55" y="890.0" width="1.65" height="11.50" fill="#000"/>
<rect x="697.80" y="890.0" width="1.67" height="11.50" fill="#000"/>
<rect x="700.68" y="890.0" width="1.67" height="11.50" fill="#000"/>
<rect x="703.55" y="890.0" width="1.67" height="11.50" fill="#000"/>
<rect x="706.43" y="890.0" width="1.67" height="11.50" fill="#000"/>
<rect x="727.20" y="890.0" width="1.50" height="11.50" fill="#000" fill-opacity="0.9"/>
<rect x="731.00" y="890.0" width="1.65" height="11.50" fill="#000"/>
<rect x="733.01" y="890.0" width="1.65" height="11.50" fill="#000"/>
<rect x="735.03" y="890.0" width="1.65" height="11.50" fill="#000"/>
<rect x="737.04" y="890.0" width="1.65" height="11.50" fill="#000"/>
<rect x="739.05" y="890.0" width="1.65" height="11.50" fill="#000"/>
<rect x="892.88" y="890.0" width="1.25" height="11.50" fill="#000" fill-opacity="0.8"/>
<rect x="895.30" y="890.0" width="1.50" height="11.50" fill="#000" fill-opacity="0.9"/>
<rect x="923.47" y="890.0" width="1.25" height="11.50" fill="#000" fill-opacity="0.8"/>
<rect x="929.58" y="890.0" width="1.25" height="11.50" fill="#000" fill-opacity="0.9"/>
<rect x="93.50" y="513.00" width="955.50" height="388.50" stroke="#000" stroke-width="1.1" fill="none"/>
<line x1="213.80" y1="504.00" x2="213.80" y2="513.00" stroke="#000" stroke-width="1.1"/>
<line x1="213.80" y1="901.50" x2="213.80" y2="910.50" stroke="#000" stroke-width="1.1"/>
<text x="213.80" y="931.80" font-size="18" font-weight="normal" text-anchor="middle" >0.5</text>
<line x1="376.22" y1="504.00" x2="376.22" y2="513.00" stroke="#000" stroke-width="1.1"/>
<line x1="376.22" y1="901.50" x2="376.22" y2="910.50" stroke="#000" stroke-width="1.1"/>
<text x="376.22" y="931.80" font-size="18" font-weight="normal" text-anchor="middle" >1.0</text>
<line x1="538.64" y1="504.00" x2="538.64" y2="513.00" stroke="#000" stroke-width="1.1"/>
<line x1="538.64" y1="901.50" x2="538.64" y2="910.50" stroke="#000" stroke-width="1.1"/>
<text x="538.64" y="931.80" font-size="18" font-weight="normal" text-anchor="middle" >1.5</text>
<line x1="701.06" y1="504.00" x2="701.06" y2="513.00" stroke="#000" stroke-width="1.1"/>
<line x1="701.06" y1="901.50" x2="701.06" y2="910.50" stroke="#000" stroke-width="1.1"/>
<text x="701.06" y="931.80" font-size="18" font-weight="normal" text-anchor="middle" >2.0</text>
<line x1="863.48" y1="504.00" x2="863.48" y2="513.00" stroke="#000" stroke-width="1.1"/>
<line x1="863.48" y1="901.50" x2="863.48" y2="910.50" stroke="#000" stroke-width="1.1"/>
<text x="863.48" y="931.80" font-size="18" font-weight="normal" text-anchor="middle" >2.5</text>
<line x1="1025.90" y1="504.00" x2="1025.90" y2="513.00" stroke="#000" stroke-width="1.1"/>
<line x1="1025.90" y1="901.50" x2="1025.90" y2="910.50" stroke="#000" stroke-width="1.1"/>
<text x="1025.90" y="931.80" font-size="18" font-weight="normal" text-anchor="middle" >3.0</text>
<line x1="84.50" y1="611.60" x2="93.50" y2="611.60" stroke="#000" stroke-width="1.1"/>
<line x1="1049.00" y1="611.60" x2="1058.00" y2="611.60" stroke="#000" stroke-width="1.1"/>
<text x="76.60" y="618.20" font-size="18" font-weight="normal" text-anchor="end" >0.8</text>
<line x1="84.50" y1="646.50" x2="93.50" y2="646.50" stroke="#000" stroke-width="1.1"/>
<line x1="1049.00" y1="646.50" x2="1058.00" y2="646.50" stroke="#000" stroke-width="1.1"/>
<text x="76.60" y="653.10" font-size="18" font-weight="normal" text-anchor="end" >0.6</text>
<line x1="84.50" y1="676.00" x2="93.50" y2="676.00" stroke="#000" stroke-width="1.1"/>
<line x1="1049.00" y1="676.00" x2="1058.00" y2="676.00" stroke="#000" stroke-width="1.1"/>
<text x="76.60" y="682.60" font-size="18" font-weight="normal" text-anchor="end" >0.4</text>
<line x1="84.50" y1="711.20" x2="93.50" y2="711.20" stroke="#000" stroke-width="1.1"/>
<line x1="1049.00" y1="711.20" x2="1058.00" y2="711.20" stroke="#000" stroke-width="1.1"/>
<text x="76.60" y="717.80" font-size="18" font-weight="normal" text-anchor="end" >0.2</text>
<text x="586.60" y="960.80" font-size="23.5" font-weight="bold" text-anchor="middle" >Transparency (m)</text>
<text transform="translate(21,710) rotate(-90)" font-size="23.5" font-weight="bold" text-anchor="middle">Detection probability</text>
<text x="0.00" y="527.10" font-size="29" font-weight="bold" text-anchor="start" >B</text>
<rect x="79.5" y="1034.5" width="955.0" height="22.0" fill="#FFE5CC"/>
<rect x="79.50" y="1034.50" width="955.00" height="376.00" stroke="#000" stroke-width="1.1" fill="none"/>
<line x1="79.50" y1="1056.50" x2="1034.50" y2="1056.50" stroke="#000" stroke-width="1.1"/>
<line x1="557.00" y1="1034.50" x2="557.00" y2="1410.50" stroke="#000" stroke-width="1.1"/>
<line x1="108.60" y1="1025.50" x2="108.60" y2="1034.50" stroke="#000" stroke-width="1.1"/>
<line x1="108.60" y1="1410.50" x2="108.60" y2="1419.50" stroke="#000" stroke-width="1.1"/>
<line x1="317.70" y1="1025.50" x2="317.70" y2="1034.50" stroke="#000" stroke-width="1.1"/>
<line x1="317.70" y1="1410.50" x2="317.70" y2="1419.50" stroke="#000" stroke-width="1.1"/>
<line x1="527.70" y1="1025.50" x2="527.70" y2="1034.50" stroke="#000" stroke-width="1.1"/>
<line x1="527.70" y1="1410.50" x2="527.70" y2="1419.50" stroke="#000" stroke-width="1.1"/>
<line x1="586.20" y1="1025.50" x2="586.20" y2="1034.50" stroke="#000" stroke-width="1.1"/>
<line x1="586.20" y1="1410.50" x2="586.20" y2="1419.50" stroke="#000" stroke-width="1.1"/>
<line x1="795.40" y1="1025.50" x2="795.40" y2="1034.50" stroke="#000" stroke-width="1.1"/>
<line x1="795.40" y1="1410.50" x2="795.40" y2="1419.50" stroke="#000" stroke-width="1.1"/>
<line x1="1004.90" y1="1025.50" x2="1004.90" y2="1034.50" stroke="#000" stroke-width="1.1"/>
<line x1="1004.90" y1="1410.50" x2="1004.90" y2="1419.50" stroke="#000" stroke-width="1.1"/>
<text x="108.60" y="1440.70" font-size="18" font-weight="normal" text-anchor="middle" >PAM</text>
<text x="317.70" y="1440.70" font-size="18" font-weight="normal" text-anchor="middle" >Sonar.scan</text>
<text x="527.70" y="1440.70" font-size="18" font-weight="normal" text-anchor="middle" >Visual.point.scan</text>
<text x="586.20" y="1017.50" font-size="18" font-weight="normal" text-anchor="middle" >PAM</text>
<text x="795.40" y="1017.50" font-size="18" font-weight="normal" text-anchor="middle" >Sonar.scan</text>
<text x="1004.90" y="1017.50" font-size="18" font-weight="normal" text-anchor="middle" >Visual.point.scan</text>
<line x1="70.50" y1="1060.40" x2="79.50" y2="1060.40" stroke="#000" stroke-width="1.1"/>
<line x1="1034.50" y1="1060.40" x2="1043.50" y2="1060.40" stroke="#000" stroke-width="1.1"/>
<text x="61.80" y="1067.00" font-size="18" font-weight="normal" text-anchor="end" >0.7</text>
<line x1="70.50" y1="1080.37" x2="79.50" y2="1080.37" stroke="#000" stroke-width="1.1"/>
<line x1="1034.50" y1="1080.37" x2="1043.50" y2="1080.37" stroke="#000" stroke-width="1.1"/>
<text x="61.80" y="1086.97" font-size="18" font-weight="normal" text-anchor="end" >0.6</text>
<line x1="70.50" y1="1098.70" x2="79.50" y2="1098.70" stroke="#000" stroke-width="1.1"/>
<line x1="1034.50" y1="1098.70" x2="1043.50" y2="1098.70" stroke="#000" stroke-width="1.1"/>
<text x="61.80" y="1105.30" font-size="18" font-weight="normal" text-anchor="end" >0.5</text>
<line x1="70.50" y1="1117.03" x2="79.50" y2="1117.03" stroke="#000" stroke-width="1.1"/>
<line x1="1034.50" y1="1117.03" x2="1043.50" y2="1117.03" stroke="#000" stroke-width="1.1"/>
<text x="61.80" y="1123.63" font-size="18" font-weight="normal" text-anchor="end" >0.4</text>
<line x1="70.50" y1="1137.00" x2="79.50" y2="1137.00" stroke="#000" stroke-width="1.1"/>
<line x1="1034.50" y1="1137.00" x2="1043.50" y2="1137.00" stroke="#000" stroke-width="1.1"/>
<text x="61.80" y="1143.60" font-size="18" font-weight="normal" text-anchor="end" >0.3</text>
<line x1="70.50" y1="1161.36" x2="79.50" y2="1161.36" stroke="#000" stroke-width="1.1"/>
<line x1="1034.50" y1="1161.36" x2="1043.50" y2="1161.36" stroke="#000" stroke-width="1.1"/>
<text x="61.80" y="1167.96" font-size="18" font-weight="normal" text-anchor="end" >0.2</text>
<line x1="70.50" y1="1198.01" x2="79.50" y2="1198.01" stroke="#000" stroke-width="1.1"/>
<line x1="1034.50" y1="1198.01" x2="1043.50" y2="1198.01" stroke="#000" stroke-width="1.1"/>
<text x="61.80" y="1204.61" font-size="18" font-weight="normal" text-anchor="end" >0.1</text>
<text x="322.80" y="1051.70" font-size="20.6" font-weight="bold" text-anchor="middle" >Invaded</text>
<text x="800.30" y="1051.70" font-size="20.6" font-weight="bold" text-anchor="middle" >Uninvaded</text>
<line x1="108.60" y1="1177.00" x2="108.60" y2="1293.70" stroke="#FF00FF" stroke-width="1.3"/>
<line x1="101.10" y1="1177.00" x2="116.10" y2="1177.00" stroke="#FF00FF" stroke-width="1.3"/>
<line x1="101.10" y1="1293.70" x2="116.10" y2="1293.70" stroke="#FF00FF" stroke-width="1.3"/>
<circle cx="108.6" cy="1236.5" r="4.8" fill="none" stroke="#FF00FF" stroke-width="1.2"/>
<line x1="317.70" y1="1177.00" x2="317.70" y2="1293.70" stroke="#FF00FF" stroke-width="1.3"/>
<line x1="310.20" y1="1177.00" x2="325.20" y2="1177.00" stroke="#FF00FF" stroke-width="1.3"/>
<line x1="310.20" y1="1293.70" x2="325.20" y2="1293.70" stroke="#FF00FF" stroke-width="1.3"/>
<circle cx="317.7" cy="1236.5" r="4.8" fill="none" stroke="#FF00FF" stroke-width="1.2"/>
<line x1="527.70" y1="1218.00" x2="527.70" y2="1365.30" stroke="#FF00FF" stroke-width="1.3"/>
<line x1="520.20" y1="1218.00" x2="535.20" y2="1218.00" stroke="#FF00FF" stroke-width="1.3"/>
<line x1="520.20" y1="1365.30" x2="535.20" y2="1365.30" stroke="#FF00FF" stroke-width="1.3"/>
<circle cx="527.7" cy="1292.3" r="4.8" fill="none" stroke="#FF00FF" stroke-width="1.2"/>
<line x1="586.20" y1="1065.10" x2="586.20" y2="1156.60" stroke="#FF00FF" stroke-width="1.3"/>
<line x1="578.70" y1="1065.10" x2="593.70" y2="1065.10" stroke="#FF00FF" stroke-width="1.3"/>
<line x1="578.70" y1="1156.60" x2="593.70" y2="1156.60" stroke="#FF00FF" stroke-width="1.3"/>
<circle cx="586.2" cy="1108.3" r="4.8" fill="none" stroke="#FF00FF" stroke-width="1.2"/>
<line x1="795.40" y1="1144.10" x2="795.40" y2="1259.80" stroke="#FF00FF" stroke-width="1.3"/>
<line x1="787.90" y1="1144.10" x2="802.90" y2="1144.10" stroke="#FF00FF" stroke-width="1.3"/>
<line x1="787.90" y1="1259.80" x2="802.90" y2="1259.80" stroke="#FF00FF" stroke-width="1.3"/>
<circle cx="795.4" cy="1202.2" r="4.8" fill="none" stroke="#FF00FF" stroke-width="1.2"/>
<line x1="1004.90" y1="1196.10" x2="1004.90" y2="1402.00" stroke="#FF00FF" stroke-width="1.3"/>
<line x1="997.40" y1="1196.10" x2="1012.40" y2="1196.10" stroke="#FF00FF" stroke-width="1.3"/>
<line x1="997.40" y1="1402.00" x2="1012.40" y2="1402.00" stroke="#FF00FF" stroke-width="1.3"/>
<circle cx="1004.9" cy="1294.6" r="4.8" fill="none" stroke="#FF00FF" stroke-width="1.2"/>
<text x="568.40" y="1476.40" font-size="23.5" font-weight="bold" text-anchor="middle" >Method</text>
<text transform="translate(21,1234.7) rotate(-90)" font-size="23.5" font-weight="bold" text-anchor="middle">Detection probability</text>
<text x="0.00" y="1038.90" font-size="29" font-weight="bold" text-anchor="start" >C</text>
</svg>
</body></html>
